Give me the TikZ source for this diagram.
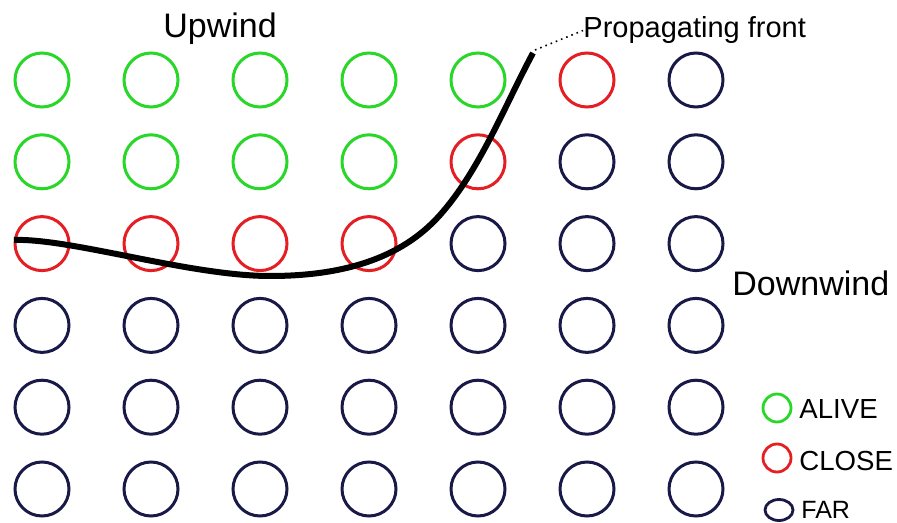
\documentclass[tikz,border=0pt]{standalone}
\usepackage{fontspec}
\setmainfont{Liberation Sans}
\definecolor{alive}{RGB}{40,215,40}
\definecolor{close}{RGB}{228,30,35}
\definecolor{far}{RGB}{25,25,72}
\tikzset{
  cell/.style={circle,draw,line width=1.5pt,minimum size=27pt,inner sep=0pt},
  keycell/.style={circle,draw,line width=1.4pt,minimum size=14pt,inner sep=0pt},
  keytext/.style={anchor=base west,inner sep=0pt,font=\fontsize{13.8}{16}\selectfont},
  side/.style={anchor=base west,inner sep=0pt,font=\fontsize{17}{20}\selectfont}
}
\begin{document}
\begin{tikzpicture}[x=0.5pt,y=-0.5pt]
		\useasboundingbox (0,0) rectangle (897,523);
		% grid of nodes, one colour list per row
		\foreach \row/\states in {1/{alive,alive,alive,alive,alive,close,far},
		                          2/{alive,alive,alive,alive,close,far,far},
		                          3/{close,close,close,close,far,far,far},
		                          4/{far,far,far,far,far,far,far},
		                          5/{far,far,far,far,far,far,far},
		                          6/{far,far,far,far,far,far,far}}
		  \foreach \s [count=\col] in \states
		    \node[cell,draw=\s] (c-\row-\col) at ({42+109*(\col-1)},{80+81.8*(\row-1)}) {};
		% the front
		\coordinate (tip) at (533,53);
		\draw[line width=3pt] (14,240) .. controls (70,238) and (190,276) .. (270,276)
		  .. controls (340,276) and (400,260) .. (440,215)
		  .. controls (480,170) and (505,105) .. (tip);
		\node[anchor=base west,inner sep=0pt,font=\fontsize{14.5}{17}\selectfont] (front) at (583,38) {Propagating front};
		\draw[dotted,thick] ([shift={(2,-3)}]tip) -- (front.west);
		\node[side] (up) at (163,38) {Upwind};
		\node[side] (down) at (732,295) {Downwind};
		% legend
		\node[keycell,draw=alive] (k-alive) at (777,408) {};
		\node[keytext] (t-alive) at (799,418) {ALIVE};
		\node[keycell,draw=close] (k-close) at (777,458) {};
		\node[keytext] (t-close) at (799,470) {CLOSE};
		\node[keycell,draw=far,yscale=0.75] (k-far) at (779,510) {};
		\node[keytext,font=\fontsize{12.5}{15}\selectfont] (t-far) at (801,518) {FAR};
	\end{tikzpicture}
\end{document}
